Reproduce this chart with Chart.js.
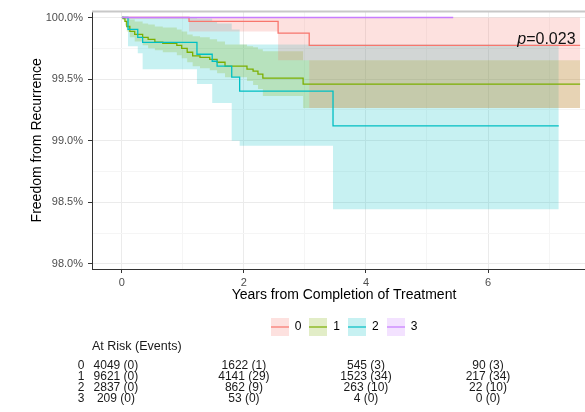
<!DOCTYPE html>
<html>
<head>
<meta charset="utf-8">
<title>Freedom from Recurrence</title>
<script src="https://cdn.jsdelivr.net/npm/chart.js@4.4.1/dist/chart.umd.min.js"></script>
<style>
  html, body { margin: 0; padding: 0; background: #fff; overflow: hidden; }
  #wrap { width: 585px; height: 412px; overflow: hidden; }
</style>
</head>
<body>
<div id="wrap"><canvas id="km" width="600" height="412"></canvas></div>
<script>
/* Kaplan-Meier: freedom from recurrence by group, with CI bands + risk table */

const FONT = '"Liberation Sans", Arial, Helvetica, sans-serif';

const GROUPS = ['0', '1', '2', '3'];
const COLORS = ['#F8766D', '#7CAE00', '#00BFC4', '#C77CFF'];

// group 0
const TIME_0  = [0, 1.1, 2.56, 3.07, 7.51];
const SURV_0  = [100, 99.968, 99.873, 99.774, 99.774];
const UPPER_0 = [100, 100, 100, 100, 100];
const LOWER_0 = [100, 99.887, 99.653, 99.266, 99.266];

// group 1
const TIME_1  = [0, 0.02, 0.05, 0.08, 0.13, 0.21, 0.34, 0.43, 0.54, 0.67, 0.9, 0.98,
                 1.07, 1.16, 1.28, 1.44, 1.56, 1.69, 2.05, 2.15, 2.23, 2.31, 2.97, 7.51];
const SURV_1  = [100, 99.992, 99.968, 99.927, 99.887, 99.863, 99.839, 99.823, 99.801, 99.790, 99.774, 99.750,
                 99.718, 99.688, 99.677, 99.661, 99.637, 99.605, 99.581, 99.565, 99.540, 99.508, 99.460, 99.460];
const UPPER_1 = [100, 100, 100, 99.992, 99.984, 99.968, 99.952, 99.944, 99.927, 99.919, 99.903, 99.887,
                 99.863, 99.847, 99.839, 99.823, 99.806, 99.782, 99.766, 99.758, 99.742, 99.726, 99.653, 99.653];
const LOWER_1 = [100, 99.984, 99.935, 99.887, 99.839, 99.806, 99.774, 99.750, 99.734, 99.718, 99.694, 99.669,
                 99.637, 99.605, 99.589, 99.573, 99.548, 99.516, 99.484, 99.452, 99.419, 99.363, 99.266, 99.266];

// group 2
const TIME_2  = [0, 0.1, 0.26, 0.34, 1.23, 1.48, 1.56, 1.8, 1.93, 3.46, 7.16];
const SURV_2  = [100, 99.903, 99.839, 99.798, 99.702, 99.645, 99.605, 99.516, 99.403, 99.121, 99.121];
const UPPER_2 = [100, 100, 100, 100, 99.992, 99.968, 99.952, 99.903, 99.782, 99.782, 99.782];
const LOWER_2 = [100, 99.766, 99.710, 99.581, 99.460, 99.306, 99.306, 99.000, 98.960, 98.444, 98.444];

// group 3 (no events)
const TIME_3  = [0, 5.43];
const SURV_3  = [100, 100];

// axes
const X_TICKS   = [0, 1, 2, 3, 4, 5, 6, 7];
const X_LABELED = [0, 2, 4, 6];
const Y_TICKS   = [98, 98.25, 98.5, 98.75, 99, 99.25, 99.5, 99.75, 100];
const Y_LABELED = [98, 98.5, 99, 99.5, 100];

// risk table
const RISK_TIMES = [0, 2, 4, 6];
const AT_RISK = [
  [4049, 1622, 545, 90],
  [9621, 4141, 1523, 217],
  [2837, 862, 263, 22],
  [209, 53, 4, 0],
];
const EVENTS = [
  [0, 1, 3, 3],
  [0, 29, 34, 34],
  [0, 9, 10, 10],
  [0, 0, 0, 0],
];

const P_TEXT = '=0.023';

/* ---------- helpers ---------- */

const pts = (times, vals) => times.map((t, i) => ({ x: t, y: vals[i] }));

function rgba(hex, a) {
  const n = parseInt(hex.slice(1), 16);
  return `rgba(${n >> 16},${(n >> 8) & 255},${n & 255},${a})`;
}

// legend key: light filled square with the line through it (ggplot style)
function legendKey(color) {
  const c = document.createElement('canvas');
  c.width = 18; c.height = 18;
  const g = c.getContext('2d');
  g.fillStyle = rgba(color, 0.22);
  g.fillRect(0, 0, 18, 18);
  g.strokeStyle = color;
  g.lineWidth = 1.2;
  g.beginPath(); g.moveTo(0, 9); g.lineTo(18, 9); g.stroke();
  return c;
}

function lineSet(i, times, vals) {
  return {
    label: GROUPS[i],
    data: pts(times, vals),
    borderColor: COLORS[i],
    borderWidth: 1.3,
    stepped: true,
    pointRadius: 0,
    fill: false,
    order: 3 - i, // later groups on top, like ggplot
  };
}

function bandSet(i, times, upper, lower) {
  const base = { stepped: true, pointRadius: 0, borderWidth: 0, borderColor: 'transparent', order: 10 };
  return [
    { ...base, label: 'upper ' + GROUPS[i], data: pts(times, upper), fill: '+1', backgroundColor: rgba(COLORS[i], 0.22) },
    { ...base, label: 'lower ' + GROUPS[i], data: pts(times, lower), fill: false },
  ];
}

/* ---------- plugins ---------- */

// light panel border on top/right (left/bottom come from the axes)
const panelFrame = {
  id: 'panelFrame',
  beforeDatasetsDraw(chart) {
    const { ctx, chartArea: a } = chart;
    ctx.save();
    ctx.strokeStyle = '#C8C8C8';
    ctx.lineWidth = 2;
    ctx.beginPath();
    ctx.moveTo(a.left, a.top); ctx.lineTo(a.right, a.top); ctx.lineTo(a.right, a.bottom);
    ctx.stroke();
    ctx.restore();
  },
};

const pValue = {
  id: 'pValue',
  afterDatasetsDraw(chart) {
    const { ctx, scales } = chart;
    const x = scales.x.getPixelForValue(6.48);
    const y = scales.y.getPixelForValue(99.782);
    ctx.save();
    ctx.fillStyle = '#111';
    ctx.textBaseline = 'alphabetic';
    ctx.textAlign = 'left';
    ctx.font = `italic 16px ${FONT}`;
    ctx.fillText('p', x, y);
    const w = ctx.measureText('p').width;
    ctx.font = `16px ${FONT}`;
    ctx.fillText(P_TEXT, x + w, y);
    ctx.restore();
  },
};

// numbers at risk under the legend, columns follow the x scale
const riskTable = {
  id: 'riskTable',
  afterDraw(chart) {
    const { ctx, scales } = chart;
    ctx.save();
    ctx.fillStyle = '#1a1a1a';
    ctx.textBaseline = 'middle';
    ctx.textAlign = 'left';
    ctx.font = `12.5px ${FONT}`;
    ctx.fillText('At Risk (Events)', 92, 347);
    ctx.font = `12px ${FONT}`;
    GROUPS.forEach((g, r) => {
      const y = 366 + r * 11;
      ctx.textAlign = 'center';
      ctx.fillText(g, 81, y);
      RISK_TIMES.forEach((t, j) => {
        const x = scales.x.getPixelForValue(t) - (j === 0 ? 6 : 0);
        ctx.fillText(`${AT_RISK[r][j]} (${EVENTS[r][j]})`, x, y);
      });
    });
    ctx.restore();
  },
};

/* ---------- chart ---------- */

const datasets = [
  lineSet(0, TIME_0, SURV_0),
  lineSet(1, TIME_1, SURV_1),
  lineSet(2, TIME_2, SURV_2),
  lineSet(3, TIME_3, SURV_3),
  ...bandSet(0, TIME_0, UPPER_0, LOWER_0),
  ...bandSet(1, TIME_1, UPPER_1, LOWER_1),
  ...bandSet(2, TIME_2, UPPER_2, LOWER_2),
];

new Chart(document.getElementById('km'), {
  type: 'line',
  data: { datasets },
  options: {
    responsive: false,
    animation: false,
    events: [],
    layout: { padding: { top: 10, left: 0, right: 4, bottom: 69 } },
    scales: {
      x: {
        type: 'linear',
        min: -0.49,
        max: 7.77,
        afterBuildTicks: (s) => { s.ticks = X_TICKS.map((v) => ({ value: v })); },
        afterFit: (s) => { s.height = 44; },
        ticks: {
          autoSkip: false,
          maxRotation: 0,
          padding: 3,
          color: '#4D4D4D',
          font: { family: FONT, size: 11 },
          callback: (v) => (X_LABELED.includes(v) ? String(v) : ''),
        },
        grid: {
          color: (c) => (X_LABELED.includes(c.tick.value) ? '#EBEBEB' : '#F5F5F5'),
          tickColor: (c) => (X_LABELED.includes(c.tick.value) ? '#333' : 'rgba(0,0,0,0)'),
          tickLength: 4,
        },
        border: { display: true, color: '#333', width: 1 },
        title: {
          display: true,
          text: 'Years from Completion of Treatment',
          color: '#000',
          font: { family: FONT, size: 14 },
          padding: { top: 0, bottom: 9 },
        },
      },
      y: {
        type: 'linear',
        min: 97.959,
        max: 100.048,
        afterBuildTicks: (s) => { s.ticks = Y_TICKS.map((v) => ({ value: v })); },
        afterFit: (s) => { s.width = 92; },
        ticks: {
          autoSkip: false,
          padding: 5,
          color: '#4D4D4D',
          font: { family: FONT, size: 11 },
          callback: (v) => (Y_LABELED.includes(v) ? v.toFixed(1) + '%' : ''),
        },
        grid: {
          color: (c) => (Y_LABELED.includes(c.tick.value) ? '#EBEBEB' : '#F5F5F5'),
          tickColor: (c) => (Y_LABELED.includes(c.tick.value) ? '#333' : 'rgba(0,0,0,0)'),
          tickLength: 4,
        },
        border: { display: true, color: '#333', width: 1 },
        title: {
          display: true,
          text: 'Freedom from Recurrence',
          color: '#000',
          font: { family: FONT, size: 14 },
          padding: { top: 29, bottom: 0 },
        },
      },
    },
    plugins: {
      tooltip: { enabled: false },
      legend: {
        position: 'bottom',
        fullSize: false,
        labels: {
          usePointStyle: true,
          pointStyleWidth: 18,
          padding: 8,
          color: '#1a1a1a',
          font: { family: FONT, size: 12 },
          generateLabels: () => GROUPS.map((g, i) => ({
            text: g,
            pointStyle: legendKey(COLORS[i]),
            fillStyle: COLORS[i],
            strokeStyle: COLORS[i],
            lineWidth: 0,
            hidden: false,
            datasetIndex: i,
          })),
        },
      },
    },
  },
  plugins: [panelFrame, pValue, riskTable],
});
</script>
</body>
</html>
